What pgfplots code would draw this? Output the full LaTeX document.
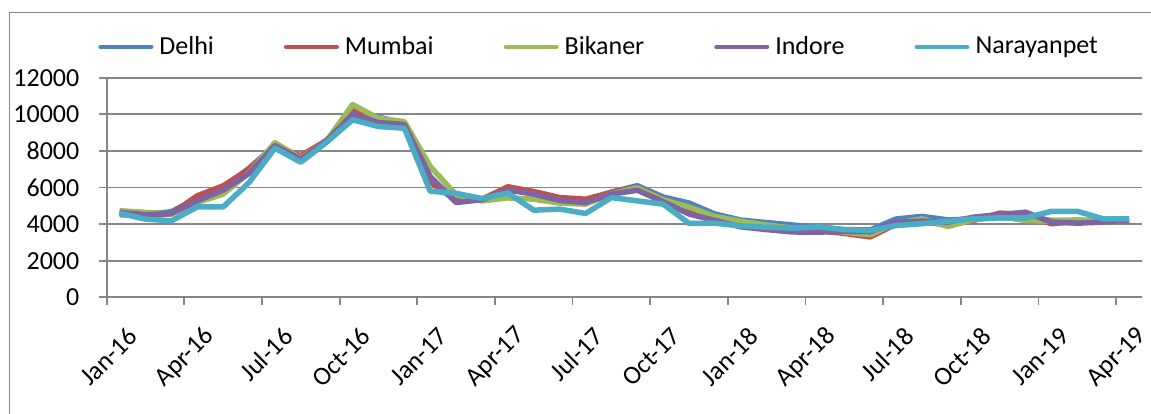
\documentclass[border=0pt]{standalone}
\usepackage{fontspec}
\setmainfont{Carlito}
\usepackage{pgfplots}
\usepackage{pgfplotstable}
\pgfplotsset{compat=1.18}
\definecolor{cDelhi}{HTML}{4F81BD}
\definecolor{cMumbai}{HTML}{C0504D}
\definecolor{cBikaner}{HTML}{9BBB59}
\definecolor{cIndore}{HTML}{8064A2}
\definecolor{cNarayanpet}{HTML}{4BACC6}
\definecolor{gridgray}{HTML}{868686}
\pgfplotstableread{
i Delhi Mumbai Bikaner Indore Narayanpet
0 4620 4520 4730 4640 4590
1 4520 4450 4640 4510 4270
2 4680 4560 4560 4580 4180
3 5400 5550 5180 5280 4940
4 6000 6090 5640 5860 4940
5 7050 7000 6800 6770 6270
6 8300 8280 8450 8290 8150
7 7620 7730 7600 7550 7380
8 8580 8580 8550 8550 8480
9 10200 10220 10530 10000 9700
10 9850 9670 9780 9550 9330
11 9500 9490 9600 9440 9240
12 6500 6300 7150 6600 5800
13 5300 5300 5600 5180 5680
14 5350 5360 5270 5330 5400
15 5950 6040 5430 5860 5700
16 5700 5780 5360 5640 4760
17 5400 5450 5150 5290 4820
18 5300 5360 5090 5180 4580
19 5750 5730 5650 5640 5450
20 6100 6000 5980 5850 5270
21 5480 5350 5330 5220 5090
22 5150 4820 4930 4550 4040
23 4550 4300 4420 4200 4050
24 4220 4000 4150 3850 3900
25 4080 3850 3950 3700 3830
26 3950 3670 3780 3570 3780
27 3830 3640 3750 3560 3850
28 3700 3490 3550 3600 3700
29 3680 3300 3420 3580 3650
30 4280 4000 4050 4100 3920
31 4420 4150 4290 4160 4020
32 4230 3930 3870 4110 4160
33 4280 4200 4250 4380 4290
34 4350 4600 4400 4520 4340
35 4380 4520 4200 4650 4340
36 4200 4020 4160 4110 4700
37 4200 4160 4230 4050 4700
38 4200 4160 4150 4110 4290
39 4250 4160 4200 4230 4290
}\prices
\begin{document}
\begin{tikzpicture}
\useasboundingbox (0,0) rectangle (575.5pt,206.5pt);
\draw[gridgray, line width=0.75pt] (4.65pt,-2pt) -- (4.65pt,200.15pt) -- (578pt,200.15pt);
\begin{axis}[
  at={(53.35pt,57.85pt)}, anchor=south west, scale only axis,
  width=517.65pt, height=109.8pt,
  xmin=-0.5, xmax=39.5, ymin=0, ymax=12000,
  axis x line=bottom, axis y line=left,
  axis line style={-, draw=gridgray, line width=0.9pt},
  tick align=outside,
  scaled y ticks=false,
  ytick={0,2000,...,12000},
  yticklabels={0,2000,4000,6000,8000,10000,12000},
  major tick length=4pt,
  ymajorgrids, major grid style={draw=gridgray, line width=0.9pt},
  tick style={draw=gridgray, line width=0.9pt},
  xtick={-0.5,2.5,...,38.5},
  xticklabels={},
  extra x ticks={0,3,...,39},
  extra x tick labels={Jan-16,Apr-16,Jul-16,Oct-16,Jan-17,Apr-17,Jul-17,Oct-17,Jan-18,Apr-18,Jul-18,Oct-18,Jan-19,Apr-19},
  extra x tick style={major tick length=0pt},
  every tick label/.append style={font=\fontsize{13}{15}\selectfont},
  yticklabel style={inner xsep=0pt, xshift=-9.5pt},
  xticklabel style={rotate=45, anchor=east, inner sep=0pt, xshift=-7.5pt, yshift=-17pt},
  legend columns=5,
  legend style={at={(axis description cs:-0.0084,1.14)}, anchor=west,
    draw=none, fill=none, inner sep=0pt,
    font=\fontsize{13}{15}\selectfont,
    nodes={inner xsep=0pt},
    /tikz/every odd column/.append style={column sep=3pt},
    /tikz/every even column/.append style={column sep=35pt}},
  legend image code/.code={\draw[#1, line width=2pt, line cap=round] (0pt,0pt) -- (25.5pt,0pt);},
  every axis plot/.append style={line width=2.75pt, line join=round},
]
\addplot[cDelhi] table[x=i, y=Delhi] {\prices};
\addlegendentry{Delhi}
\addplot[cMumbai] table[x=i, y=Mumbai] {\prices};
\addlegendentry{Mumbai}
\addplot[cBikaner] table[x=i, y=Bikaner] {\prices};
\addlegendentry{Bikaner}
\addplot[cIndore] table[x=i, y=Indore] {\prices};
\addlegendentry{Indore}
\addplot[cNarayanpet] table[x=i, y=Narayanpet] {\prices};
\addlegendentry{Narayanpet}
\end{axis}
\end{tikzpicture}
\end{document}
